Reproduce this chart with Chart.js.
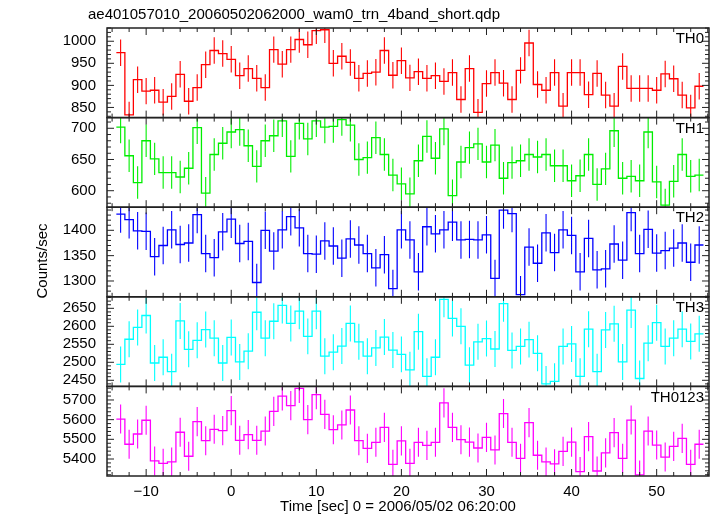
<!DOCTYPE html>
<html lang="en">
<head>
<meta charset="UTF-8">
<title>WAM light curve</title>
<script src="https://cdn.jsdelivr.net/npm/chart.js"></script>
<style>
  body { margin: 0; background: #fff; }
  #wrap { width: 717px; height: 516px; }
</style>
</head>
<body>
<div id="wrap"><canvas id="lc" width="717" height="516"></canvas></div>
<script>
// bin centres (sec from 2006/05/02 06:20:00), 1 s bins
const binTime = [-13, -12, -11, -10, -9, -8, -7, -6, -5, -4, -3, -2, -1, 0, 1, 2, 3, 4, 5, 6,
  7, 8, 9, 10, 11, 12, 13, 14, 15, 16, 17, 18, 19, 20, 21, 22, 23, 24, 25, 26, 27, 28, 29, 30,
  31, 32, 33, 34, 35, 36, 37, 38, 39, 40, 41, 42, 43, 44, 45, 46, 47, 48, 49, 50, 51, 52, 53, 54, 55];

const th0 = [974, 833, 913, 887, 889, 862, 875, 925, 864, 895, 947, 979, 972, 959, 922, 938, 916, 895, 981, 948,
  981, 1004, 992, 1024, 1026, 950, 966, 952, 916, 927, 930, 979, 923, 956, 917, 931, 916, 922, 909, 929,
  868, 938, 839, 904, 929, 905, 868, 934, 996, 902, 889, 929, 853, 929, 929, 879, 927, 878, 853, 943,
  893, 893, 893, 889, 926, 915, 878, 849, 898];
const th1 = [702, 656, 613, 680, 651, 629, 629, 622, 636, 701, 596, 658, 676, 694, 698, 672, 639, 680, 688, 712,
  655, 708, 683, 712, 702, 703, 714, 705, 650, 653, 685, 658, 625, 611, 595, 648, 687, 652, 699, 592,
  646, 669, 675, 646, 673, 620, 645, 648, 658, 654, 658, 640, 640, 616, 624, 658, 610, 635, 696, 620,
  623, 616, 694, 614, 577, 615, 658, 623, 625];
const th2 = [1432, 1421, 1399, 1398, 1348, 1370, 1401, 1372, 1375, 1431, 1354, 1346, 1397, 1422, 1374, 1378, 1297, 1400, 1359, 1401,
  1427, 1405, 1354, 1353, 1379, 1369, 1345, 1383, 1371, 1354, 1326, 1352, 1285, 1401, 1381, 1318, 1407, 1393, 1401, 1416,
  1381, 1382, 1381, 1391, 1305, 1440, 1433, 1273, 1367, 1335, 1395, 1356, 1401, 1390, 1318, 1384, 1322, 1324, 1373, 1341,
  1435, 1354, 1402, 1355, 1360, 1365, 1375, 1337, 1371];
const th3 = [2494, 2564, 2597, 2630, 2498, 2514, 2474, 2615, 2536, 2561, 2591, 2567, 2498, 2569, 2501, 2531, 2639, 2567, 2614, 2658,
  2608, 2642, 2572, 2642, 2517, 2528, 2545, 2608, 2557, 2517, 2540, 2570, 2534, 2522, 2479, 2585, 2461, 2514, 2675, 2622,
  2600, 2492, 2557, 2566, 2537, 2663, 2533, 2544, 2563, 2525, 2440, 2447, 2544, 2551, 2461, 2592, 2474, 2590, 2607, 2501,
  2645, 2455, 2553, 2610, 2544, 2567, 2592, 2558, 2579];
const th0123 = [5603, 5475, 5527, 5597, 5390, 5378, 5385, 5536, 5414, 5590, 5493, 5551, 5544, 5646, 5495, 5524, 5495, 5542, 5642, 5720,
  5671, 5759, 5600, 5727, 5627, 5549, 5573, 5649, 5493, 5454, 5485, 5561, 5373, 5492, 5378, 5485, 5469, 5485, 5685, 5561,
  5498, 5486, 5456, 5510, 5446, 5631, 5485, 5403, 5585, 5419, 5385, 5375, 5439, 5486, 5336, 5514, 5339, 5431, 5534, 5403,
  5598, 5319, 5542, 5471, 5410, 5464, 5505, 5373, 5475];

const bandNames = ['TH0', 'TH1', 'TH2', 'TH3', 'TH0123'];
const bandErr = [30, 26, 37, 50, 74];   // +/- error per bin

// labelled y ticks of each panel
const yTicks0 = [850, 900, 950, 1000];
const yTicks1 = [600, 650, 700];
const yTicks2 = [1300, 1350, 1400];
const yTicks3 = [2450, 2500, 2550, 2600, 2650];
const yTicks4 = [5400, 5500, 5600, 5700];
const xTickLabels = [-10, 0, 10, 20, 30, 40, 50];

// axis settings per panel
const bandColors = ['#ff0000', '#00ee00', '#0000ff', '#00ffff', '#ff00ff'];
const yMin = [827, 573.6, 1268.8, 2433, 5313.6];
const yMax = [1030, 717.1, 1445.6, 2682, 5769];
const yMinor = [10, 10, 10, 10, 20];

const plotTitle = 'ae401057010_20060502062000_wam0_trn_4band_short.qdp';
const xTitle = 'Time [sec] 0 = 2006/05/02 06:20:00';
const yTitle = 'Counts/sec';

const labelFont = "15px 'Liberation Sans', Arial, sans-serif";
Chart.defaults.font.family = "'Liberation Sans', Arial, sans-serif";
Chart.defaults.color = '#000';

const bands = [th0, th1, th2, th3, th0123];
const yTicks = [yTicks0, yTicks1, yTicks2, yTicks3, yTicks4];
const datasets = [];
bands.forEach((vals, i) => {
  const steps = [];
  const bars = [];
  vals.forEach((v, k) => {
    const t = binTime[k];
    steps.push({x: t - 0.5, y: v}, {x: t + 0.5, y: v});
    bars.push({x: t, y: v - bandErr[i]}, {x: t, y: v + bandErr[i]}, {x: t, y: null});
  });
  datasets.push({label: bandNames[i], data: steps, yAxisID: 'y' + i,
    borderColor: bandColors[i], borderWidth: 1.3, pointRadius: 0, tension: 0});
  datasets.push({label: bandNames[i] + ' err', data: bars, yAxisID: 'y' + i,
    borderColor: bandColors[i], borderWidth: 1.1, pointRadius: 0, tension: 0});
});

const scales = {
  x: {
    type: 'linear', min: -14.6, max: 56.15,
    grid: {display: false, drawTicks: false}, border: {display: false},
    afterBuildTicks: s => { s.ticks = xTickLabels.map(v => ({value: v})); },
    ticks: {
      autoSkip: false, maxRotation: 0, padding: 7,
      font: {size: 15},
      callback: v => v < 0 ? '\u2212' + Math.abs(v) : String(v)
    },
    afterFit: s => { s.height = 40; }
  }
};
bandNames.forEach((name, i) => {
  scales['y' + i] = {
    type: 'linear', position: 'left', stack: 'bands', stackWeight: 1, weight: 5 - i,
    min: yMin[i], max: yMax[i],
    grid: {display: false, drawTicks: false}, border: {display: false},
    afterBuildTicks: s => { s.ticks = yTicks[i].map(v => ({value: v})); },
    ticks: {autoSkip: false, padding: 11, font: {size: 15}, callback: v => String(v)},
    afterFit: s => { s.width = 107; }
  };
});

// frames, inward ticks, panel names and titles in qdp style
const qdpFrame = {
  id: 'qdpFrame',
  beforeDatasetDraw(chart, args) {
    const ys = chart.scales[args.meta.yAxisID];
    const a = chart.chartArea;
    chart.ctx.save();
    chart.ctx.beginPath();
    chart.ctx.rect(a.left, ys.top, a.right - a.left, ys.bottom - ys.top);
    chart.ctx.clip();
  },
  afterDatasetDraw(chart) {
    chart.ctx.restore();
  },
  afterDraw(chart) {
    const ctx = chart.ctx;
    const a = chart.chartArea;
    const xs = chart.scales.x;
    const seg = (x1, y1, x2, y2) => {
      ctx.beginPath(); ctx.moveTo(x1, y1); ctx.lineTo(x2, y2); ctx.stroke();
    };
    ctx.save();
    ctx.strokeStyle = '#222';
    ctx.fillStyle = '#000';
    ctx.font = labelFont;
    ctx.textBaseline = 'middle';
    bandNames.forEach((name, i) => {
      const ys = chart.scales['y' + i];
      const major = yTicks[i][1] - yTicks[i][0];
      ctx.lineWidth = 1.5;
      ctx.strokeRect(a.left, ys.top, a.right - a.left, ys.bottom - ys.top);
      ctx.lineWidth = 1;
      for (let v = Math.ceil(ys.min / yMinor[i]) * yMinor[i]; v <= ys.max; v += yMinor[i]) {
        const y = ys.getPixelForValue(v);
        const len = v % major === 0 ? 7 : 4;
        seg(a.left, y, a.left + len, y);
        seg(a.right - len, y, a.right, y);
      }
      for (let t = Math.ceil(xs.min / 2) * 2; t <= xs.max; t += 2) {
        const x = xs.getPixelForValue(t);
        const len = t % 10 === 0 ? 7 : 4;
        seg(x, ys.top, x, ys.top + len);
        seg(x, ys.bottom - len, x, ys.bottom);
      }
      ctx.textAlign = 'right';
      ctx.fillText(name, a.right - 5, ys.top + 11);
    });
    ctx.textAlign = 'left';
    ctx.fillText(plotTitle, a.left - 19, a.top - 13);
    ctx.textAlign = 'center';
    ctx.fillText(xTitle, a.left + 291, a.bottom + 31);
    ctx.translate(a.left - 64, 261);
    ctx.rotate(-Math.PI / 2);
    ctx.fillText(yTitle, 0, 0);
    ctx.restore();
  }
};

new Chart(document.getElementById('lc'), {
  type: 'line',
  data: {datasets: datasets},
  options: {
    responsive: false,
    animation: false,
    events: [],
    layout: {padding: {left: 0, right: 8, top: 28, bottom: 0}},
    scales: scales,
    plugins: {
      legend: {display: false},
      tooltip: {enabled: false}
    }
  },
  plugins: [qdpFrame]
});
</script>
</body>
</html>
